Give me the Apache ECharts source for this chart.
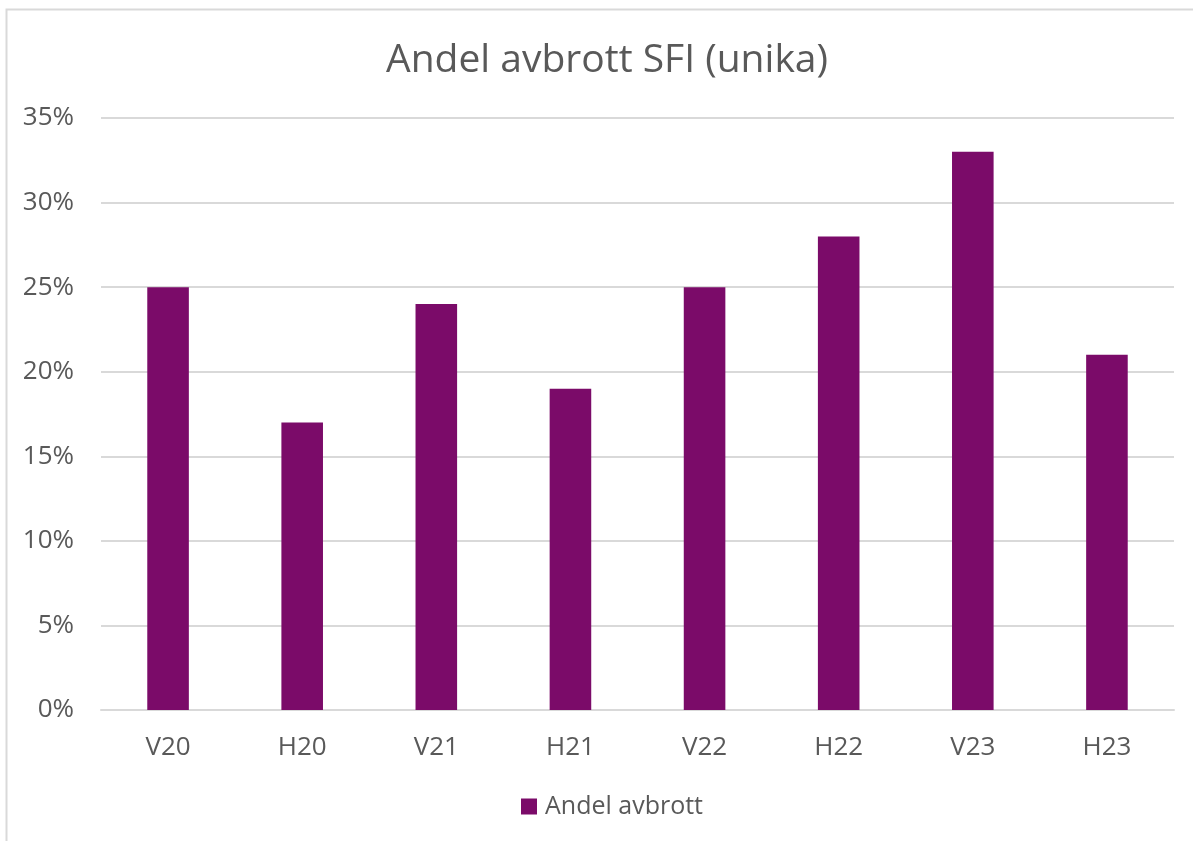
<!DOCTYPE html>
<html><head><meta charset="utf-8">
<script src="https://cdn.jsdelivr.net/npm/echarts@6/dist/echarts.min.js"></script>
<style>html,body{margin:0;padding:0;background:#fff;}#c{width:1193px;height:841px;}</style>
</head><body><div id="c"></div>
<script>
const categories = ["V20","H20","V21","H21","V22","H22","V23","H23"];
const values = [25,17,24,19,25,28,33,21];
const seriesName = "Andel avbrott";
const titleText = "Andel avbrott SFI (unika)";
const yMin = 0, yMax = 35, yStep = 5;

const chart = echarts.init(document.getElementById('c'), null, {renderer:'canvas'});
const font = '"Open Sans", "Noto Sans", sans-serif';
chart.setOption({
  animation:false,
  backgroundColor:'#fff',
  textStyle:{fontFamily:font},
  graphic:[{type:'rect',shape:{x:6.5,y:9.5,width:1300,height:1000},style:{fill:'none',stroke:'#d9d9d9',lineWidth:2},silent:true}],
  title:{text:titleText,left:386,top:41,padding:0,textStyle:{fontFamily:font,fontSize:39,fontWeight:'normal',color:'#595959'}},
  legend:{bottom:17,left:516,itemWidth:16,itemHeight:16,icon:'rect',itemGap:8,
    textStyle:{fontFamily:font,fontSize:25,color:'#595959',padding:[0,0,0,3]},data:[seriesName]},
  grid:{left:101,right:19,top:118,bottom:131,containLabel:false},
  xAxis:{type:'category',data:categories,
    axisLine:{lineStyle:{color:'#d9d9d9',width:2}},axisTick:{show:false},
    axisLabel:{color:'#595959',fontSize:26,margin:25,fontFamily:font}},
  yAxis:{type:'value',min:yMin,max:yMax,interval:yStep,
    axisLine:{show:false},axisTick:{show:false},
    splitLine:{lineStyle:{color:'#d9d9d9',width:2}},
    axisLabel:{color:'#595959',fontSize:26,margin:27,fontFamily:font,formatter:v=>v+'%'}},
  series:[{name:seriesName,type:'bar',data:values,barWidth:'31%',
    itemStyle:{color:'#7B0B69'}}]
});
</script></body></html>
